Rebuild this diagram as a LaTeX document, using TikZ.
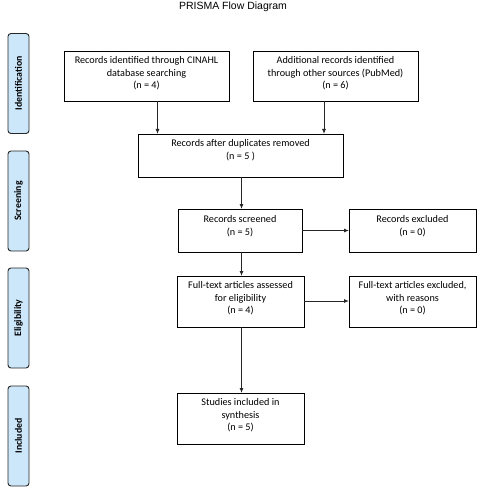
\documentclass[tikz,border=0pt]{standalone}
\usepackage{fontspec}
\setmainfont{Carlito}
\newfontfamily\titlefont{Liberation Sans}
\usetikzlibrary{arrows.meta}
\definecolor{sidefill}{RGB}{204,230,250}
\newcommand\boxtxt[3]{\parbox[c][#2pt][t]{#1pt}{\centering\fontsize{10.2}{12.5}\selectfont\vspace{5.5pt}#3}}
\tikzset{
  flowbox/.style={draw=black, line width=0.85pt, inner sep=0pt, outer sep=0pt, rectangle},
  sidebox/.style={draw=black!85, line width=0.9pt, fill=sidefill, rounded corners=3pt, inner sep=0pt,
     minimum width=100pt, minimum height=21pt, rotate=90, font=\fontsize{9.8}{10}\selectfont\bfseries},
  arr/.style={draw=black!85, line width=0.85pt, -{Latex[length=5pt,width=4pt]}}
}
\begin{document}
\begin{tikzpicture}[x=1pt,y=-1pt]
\useasboundingbox (0,0) rectangle (495,492);
\node[font=\titlefont\fontsize{10.5}{12}\selectfont] (title) at (233,7) {PRISMA Flow Diagram};
% side labels
\node[sidebox] (s1) at (18.5,83.5) {Identification};
\node[sidebox] (s2) at (18.5,201) {Screening};
\node[sidebox] (s3) at (18.5,318) {Eligibility};
\node[sidebox] (s4) at (18.5,436) {Included};
% boxes
\node[flowbox] (b1) at (146.5,76) {\boxtxt{165}{50}{Records identified through CINAHL\\database searching\\(n = 4)}};
\node[flowbox] (b2) at (335.5,76) {\boxtxt{165}{50}{Additional records identified\\through other sources (PubMed)\\(n = 6)}};
\node[flowbox] (b3) at (240.5,155.5) {\boxtxt{205}{43}{Records after duplicates removed\\(n = 5 )}};
\node[flowbox] (b4) at (240,230.5) {\boxtxt{124}{43}{\vspace{1pt}Records screened\\(n = 5)}};
\node[flowbox] (b5) at (412.5,230.5) {\boxtxt{127}{43}{\vspace{1pt}Records excluded\\(n = 0)}};
\node[flowbox] (b6) at (240.5,301.5) {\boxtxt{127}{51}{Full-text articles assessed\\for eligibility\\(n = 4)}};
\node[flowbox] (b7) at (412.5,301.5) {\boxtxt{127}{51}{Full-text articles excluded,\\with reasons\\(n = 0)}};
\node[flowbox] (b8) at (240.5,418.5) {\boxtxt{127}{51}{Studies included in\\synthesis\\(n = 5)}};
% arrows
\coordinate (c1) at (157.5,0);
\coordinate (c2) at (324,0);
\coordinate (c3) at (241.5,0);
\coordinate (r1) at (0,230.5);
\coordinate (r2) at (0,301);
\draw[arr] (b1.south -| c1) -- (b3.north -| c1);
\draw[arr] (b2.south -| c2) -- (b3.north -| c2);
\draw[arr] (b3.south -| c3) -- (b4.north -| c3);
\draw[arr] (b4.east |- r1) -- (b5.west |- r1);
\draw[arr] (b4.south -| c3) -- (b6.north -| c3);
\draw[arr] (b6.east |- r2) -- (b7.west |- r2);
\draw[arr] (b6.south -| c3) -- (b8.north -| c3);
\end{tikzpicture}
\end{document}
